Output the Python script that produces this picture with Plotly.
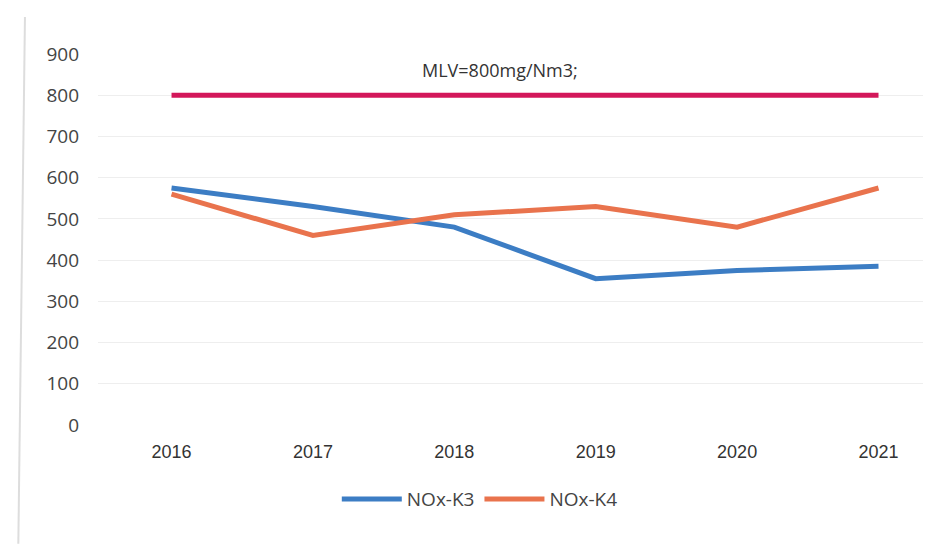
import plotly.graph_objects as go

years = ['2016', '2017', '2018', '2019', '2020', '2021']
nox_k3 = [575, 530, 480, 355, 375, 385]
nox_k4 = [560, 460, 510, 530, 480, 575]
mlv = [800, 800, 800, 800, 800, 800]
y_ticks = [0, 100, 200, 300, 400, 500, 600, 700, 800, 900]

fig = go.Figure()
fig.add_trace(go.Scatter(x=years, y=mlv, mode='lines', name='MLV', showlegend=False,
                         line=dict(color='#D3175A', width=5)))
fig.add_trace(go.Scatter(x=years, y=nox_k3, mode='lines', name='NOx-K3',
                         line=dict(color='#3C7DC4', width=5)))
fig.add_trace(go.Scatter(x=years, y=nox_k4, mode='lines', name='NOx-K4',
                         line=dict(color='#E9734D', width=5)))

fig.add_annotation(x=2.32, y=860, xref='x', yref='y', text='MLV=800mg/Nm3;', showarrow=False,
                   font=dict(family='Open Sans', size=18, color='#333333'))

# faint border of the scanned chart
fig.add_shape(type='line', xref='paper', yref='paper', x0=-0.088, x1=-0.096, y0=1.1, y1=-0.32,
              line=dict(color='#dddddd', width=2))

fig.update_layout(
    width=931, height=548,
    margin=dict(l=90, r=11, t=46, b=131),
    paper_bgcolor='white', plot_bgcolor='white',
    font=dict(family='Open Sans', size=18, color='#444444'),
    showlegend=True,
    legend=dict(orientation='h', x=0.46, xanchor='center', y=-0.2, yanchor='middle',
                font=dict(size=19, color='#444444'), itemwidth=60),
)
fig.update_xaxes(type='category', range=[-0.52, 5.35], showgrid=False, showline=False,
                 ticks='', ticklabelstandoff=14, tickfont=dict(family='Liberation Sans', size=18, color='#333333'))
fig.update_yaxes(range=[0, 900], tickvals=y_ticks, showgrid=True, gridcolor='#eeeeee', gridwidth=1,
                 zeroline=False, showline=False, ticks='', ticklabelstandoff=18,
                 tickfont=dict(size=19, color='#444444'))

fig.write_html('out.html')
